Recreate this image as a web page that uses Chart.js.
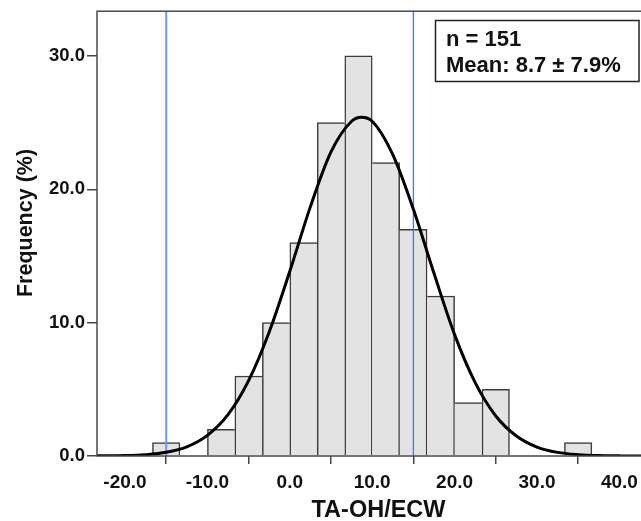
<!DOCTYPE html>
<html>
<head>
<meta charset="utf-8">
<script src="https://cdn.jsdelivr.net/npm/chart.js@4.4.1/dist/chart.umd.min.js"></script>
<style>
  html, body { margin: 0; padding: 0; background: #fff; overflow: hidden; width: 641px; height: 521px; }
</style>
</head>
<body>
<!-- canvas is a bit wider than the window: the plot runs off the right edge like the original -->
<canvas id="histChart" width="660" height="521"></canvas>
<script>
// histogram bins (left edge) and heights
const binStarts = [-16.67, -10, -6.67, -3.33, 0, 3.33, 6.67, 10, 13.33, 16.67, 20, 23.33, 33.33];
const binCounts = [1, 2, 6, 10, 16, 25, 30, 22, 17, 12, 4, 5, 1];
const binWidth = 3.333;

// fitted normal curve
const curveX = [-23.4, -20, -17.5, -15, -12.5, -10, -7.5, -5, -2.5, 0, 2.5, 5, 7.5, 8.7, 10, 12.5, 15, 17.5, 20, 22.5, 25, 27.5, 30, 32.5, 35, 37.5, 40, 42.5, 45];
const curveY = [0.01, 0.03, 0.1, 0.28, 0.69, 1.55, 3.1, 5.65, 9.3, 13.85, 18.7, 22.8, 25.1, 25.4, 25.1, 22.6, 18.5, 13.7, 9.1, 5.5, 3.0, 1.5, 0.67, 0.27, 0.1, 0.03, 0.01, 0.0, 0.0];

// vertical reference lines
const limitLines = [-15, 15];

const xTicks = [-20, -10, 0, 10, 20, 30, 40];
const yTicks = [0, 10, 20, 30];
const xMin = -23.4, xMax = 44.93;
const yMin = 0, yMax = 33.35;

const xTitle = "TA-OH/ECW";
const yTitle = "Frequency (%)";
const statsLines = ["n = 151", "Mean: 8.7 \u00b1 7.9%"];

const FONT = "'Liberation Sans', Arial, sans-serif";

function neighbourLeft(i) {
  return i > 0 && Math.abs(binStarts[i] - binStarts[i - 1] - binWidth) < 0.05;
}
function neighbourRight(i) {
  return i < binStarts.length - 1 && Math.abs(binStarts[i + 1] - binStarts[i] - binWidth) < 0.05;
}

// each shared edge is drawn once, by the taller bar
function barBorder(ctx) {
  const i = ctx.dataIndex;
  if (i === undefined) return 1.5;
  const h = binCounts[i];
  const left = !neighbourLeft(i) || h >= binCounts[i - 1];
  const right = !neighbourRight(i) || h > binCounts[i + 1];
  return { top: 1.5, left: left ? 1.5 : 0, right: right ? 1.5 : 0, bottom: 0 };
}

const framePlugin = {
  id: "frame",
  afterDatasetsDraw(chart) {
    const { ctx, chartArea: a } = chart;
    ctx.save();
    ctx.strokeStyle = "#4a4a4a";
    ctx.lineWidth = 1.5;
    ctx.beginPath();
    ctx.moveTo(a.right, a.top);
    ctx.lineTo(a.left, a.top);
    ctx.lineTo(a.left, a.bottom);
    ctx.lineTo(a.right, a.bottom);
    ctx.stroke();

    // stats box
    const bx = 435.5, by = 20.5, bw = 203.5, bh = 61;
    ctx.fillStyle = "#fff";
    ctx.fillRect(bx, by, bw, bh);
    ctx.strokeStyle = "#222";
    ctx.strokeRect(bx, by, bw, bh);
    ctx.fillStyle = "#111";
    ctx.font = "bold 22px " + FONT;
    ctx.textAlign = "left";
    ctx.textBaseline = "alphabetic";
    statsLines.forEach((t, k) => {
      ctx.fillText(t, bx + 10.5, by + 25.5 + k * 26);
    });

    // y axis title
    ctx.translate(26, 223);
    ctx.rotate(-Math.PI / 2);
    ctx.font = "bold 21.5px " + FONT;
    ctx.textAlign = "center";
    ctx.textBaseline = "middle";
    ctx.fillText(yTitle, 0, 0);
    ctx.restore();
  }
};

const barData = binStarts.map((s, i) => ({ x: s + binWidth / 2, y: binCounts[i] }));
const curveData = curveX.map((x, i) => ({ x: x, y: curveY[i] }));

const limitSets = limitLines.map((v, k) => ({
  type: "line",
  data: [{ x: v, y: yMin }, { x: v, y: yMax }],
  borderColor: k === 0 ? "#6d9be3" : "#4f78c0",
  borderWidth: k === 0 ? 2 : 1.3,
  pointRadius: 0,
  fill: false,
  order: 2
}));

const ctx = document.getElementById("histChart").getContext("2d");
const chart = new Chart(ctx, {
  type: "bar",
  data: {
    datasets: [
      {
        type: "bar",
        data: barData,
        backgroundColor: "#e3e3e3",
        borderColor: "#3c3c3c",
        borderWidth: barBorder,
        borderSkipped: false,
        barPercentage: 1,
        categoryPercentage: 1,
        order: 3
      },
      ...limitSets,
      {
        type: "line",
        data: curveData,
        borderColor: "#000",
        borderWidth: 3,
        pointRadius: 0,
        fill: false,
        cubicInterpolationMode: "monotone",
        order: 1
      }
    ]
  },
  options: {
    responsive: false,
    animation: false,
    devicePixelRatio: 1,
    layout: { padding: { left: 0, top: 11, right: 0, bottom: 0 } },
    plugins: {
      legend: { display: false },
      tooltip: { enabled: false }
    },
    scales: {
      x: {
        type: "linear",
        min: xMin,
        max: xMax,
        offset: false,
        afterFit: (scale) => { scale.height = 65; },
        afterBuildTicks: (scale) => { scale.ticks = xTicks.map((v) => ({ value: v })); },
        grid: { drawOnChartArea: false, drawTicks: true, tickLength: 8, color: "#444", lineWidth: 1.5 },
        border: { display: false },
        ticks: {
          padding: 7,
          color: "#111",
          font: { family: FONT, size: 19, weight: "bold" },
          maxRotation: 0,
          callback: (v) => Number(v).toFixed(1)
        },
        title: {
          display: true,
          text: xTitle,
          color: "#111",
          padding: 0,
          font: { family: FONT, size: 23.5, weight: "bold", lineHeight: 0.85 }
        }
      },
      y: {
        min: yMin,
        max: yMax,
        afterFit: (scale) => { scale.width = 97; },
        afterBuildTicks: (scale) => { scale.ticks = yTicks.map((v) => ({ value: v })); },
        grid: { drawOnChartArea: false, drawTicks: true, tickLength: 10, color: "#444", lineWidth: 1.5 },
        border: { display: false },
        ticks: {
          padding: 2,
          color: "#111",
          font: { family: FONT, size: 18.5, weight: "bold", lineHeight: 1 },
          callback: (v) => Number(v).toFixed(1)
        },
        title: { display: false }
      }
    }
  },
  plugins: [framePlugin]
});
</script>
</body>
</html>
